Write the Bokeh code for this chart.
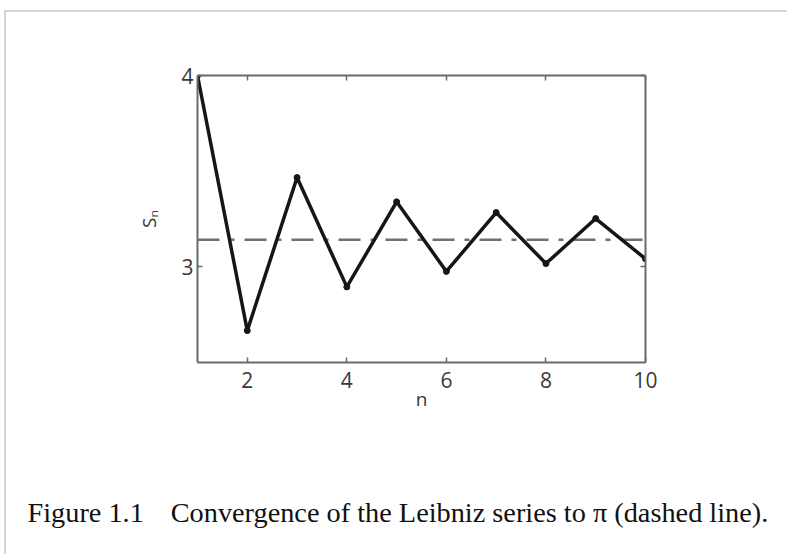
from bokeh.plotting import figure
from bokeh.models import Range1d, LinearAxis, FixedTicker, Title
from bokeh.embed import file_html
from bokeh.resources import INLINE

# data: partial sums of the Leibniz series
n_vals = [1, 2, 3, 4, 5, 6, 7, 8, 9, 10]
s_vals = [4.0, 2.6667, 3.4667, 2.8952, 3.3397, 2.9760, 3.2837, 3.0171, 3.2524, 3.0418]
pi_x = [1, 10]
pi_y = [3.14159, 3.14159]
x_ticks = [2, 4, 6, 8, 10]
y_ticks = [3, 4]
caption = "Figure 1.1\u00a0\u00a0\u2009 Convergence of the Leibniz series to \u03c0 (dashed line)."

FONT = "Open Sans"
AX_COL = "#6a6a6a"
LBL_COL = "#3a3a3a"

p = figure(width=783, height=544, x_range=Range1d(1, 10), y_range=Range1d(2.5, 4),
           output_backend="svg", toolbar_location=None,
           min_border_left=191, min_border_right=144, min_border_top=63, min_border_bottom=194,
           x_axis_label="n", y_axis_label="S\u2099")
p.styles = {"margin-left": "6px", "margin-top": "12px",
            "box-shadow": "-2px -2px 0px 0px #d4d4d4"}
p.grid.visible = False
p.outline_line_color = None
p.background_fill_color = "white"
p.border_fill_color = "white"

def style_axis(ax, show_labels=True):
    ax.axis_line_color = AX_COL
    ax.axis_line_width = 2
    ax.major_tick_line_color = AX_COL
    ax.major_tick_line_width = 1.5
    ax.major_tick_in = 5
    ax.major_tick_out = 0
    ax.minor_tick_line_color = None
    ax.major_label_text_font = FONT
    ax.major_label_text_font_size = "21px"
    ax.major_label_text_color = LBL_COL
    ax.major_label_standoff = 4
    ax.axis_label_text_font = FONT
    ax.axis_label_text_font_size = "19px"
    ax.axis_label_text_font_style = "normal"
    ax.axis_label_text_color = LBL_COL
    if not show_labels:
        ax.major_label_text_color = None

p.xaxis.ticker = FixedTicker(ticks=x_ticks)
p.yaxis.ticker = FixedTicker(ticks=y_ticks)
for ax in p.xaxis + p.yaxis:
    style_axis(ax)
p.xaxis.major_label_standoff = 9
p.xaxis.axis_label_standoff = -5
p.yaxis.axis_label_standoff = 16

top = LinearAxis(ticker=FixedTicker(ticks=x_ticks))
right = LinearAxis(ticker=FixedTicker(ticks=y_ticks))
style_axis(top, False)
style_axis(right, False)
p.add_layout(top, "above")
p.add_layout(right, "right")

# invisible spacer axis between the x axis and the caption (its size comes from tick_out)
spacer = LinearAxis(ticker=FixedTicker(ticks=x_ticks), axis_line_color=None,
                    major_tick_line_color="white", major_tick_line_alpha=0.0,
                    minor_tick_line_color=None,
                    major_tick_in=0, major_tick_out=80,
                    major_label_text_color=None)
p.add_layout(spacer, "below")

p.line(pi_x, pi_y, line_color="#707070", line_width=2.5, line_dash="22 10 5 10")
p.line(n_vals, s_vals, line_color="#161616", line_width=3.5, line_join="round")
p.scatter(n_vals, s_vals, size=6, fill_color="#161616", line_color="#161616")

cap = Title(text=caption, align="left", offset=-170, standoff=0,
            text_font="Liberation Serif", text_font_size="28.3px",
            text_font_style="normal", text_color="#111111")
p.add_layout(cap, "below")

open("out.html", "w").write(file_html(p, INLINE))
